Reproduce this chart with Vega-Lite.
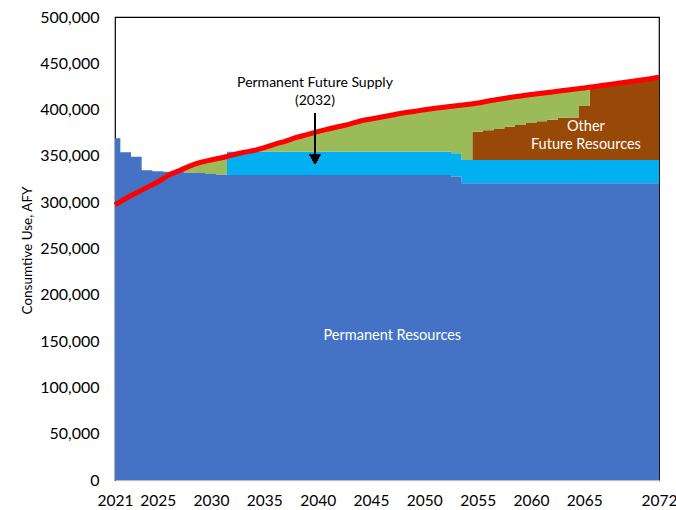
{
  "$schema": "https://vega.github.io/schema/vega-lite/v6.json",
  "width": 544,
  "height": 463,
  "autosize": {"type": "none"},
  "padding": {"left": 115, "top": 17, "right": 17, "bottom": 30},
  "config": {"view": {"stroke": "#000000", "strokeWidth": 1.2}, "font": "Lato"},
  "data": {"values": [
    {"year": 2021, "PR": 369000, "PFS": 0, "OFR": 0, "FN": 0, "demand": 297000},
    {"year": 2022, "PR": 354000, "PFS": 0, "OFR": 0, "FN": 0, "demand": 304000},
    {"year": 2023, "PR": 349000, "PFS": 0, "OFR": 0, "FN": 0, "demand": 310000},
    {"year": 2024, "PR": 334500, "PFS": 0, "OFR": 0, "FN": 0, "demand": 316000},
    {"year": 2025, "PR": 333500, "PFS": 0, "OFR": 0, "FN": 0, "demand": 321800},
    {"year": 2026, "PR": 333000, "PFS": 0, "OFR": 0, "FN": 0, "demand": 329000},
    {"year": 2027, "PR": 332500, "PFS": 0, "OFR": 0, "FN": 1500, "demand": 334000},
    {"year": 2028, "PR": 332000, "PFS": 0, "OFR": 0, "FN": 7000, "demand": 339000},
    {"year": 2029, "PR": 331500, "PFS": 0, "OFR": 0, "FN": 11500, "demand": 343000},
    {"year": 2030, "PR": 330500, "PFS": 0, "OFR": 0, "FN": 15100, "demand": 345600},
    {"year": 2031, "PR": 330000, "PFS": 0, "OFR": 0, "FN": 18000, "demand": 348000},
    {"year": 2032, "PR": 329500, "PFS": 25000, "OFR": 0, "FN": 0, "demand": 351000},
    {"year": 2033, "PR": 329500, "PFS": 25000, "OFR": 0, "FN": 0, "demand": 353700},
    {"year": 2034, "PR": 329500, "PFS": 25000, "OFR": 0, "FN": 1300, "demand": 355800},
    {"year": 2035, "PR": 329500, "PFS": 25000, "OFR": 0, "FN": 4500, "demand": 359000},
    {"year": 2036, "PR": 329500, "PFS": 25000, "OFR": 0, "FN": 8300, "demand": 362800},
    {"year": 2037, "PR": 329500, "PFS": 25000, "OFR": 0, "FN": 11500, "demand": 366000},
    {"year": 2038, "PR": 329500, "PFS": 25000, "OFR": 0, "FN": 15400, "demand": 369900},
    {"year": 2039, "PR": 329500, "PFS": 25000, "OFR": 0, "FN": 18500, "demand": 373000},
    {"year": 2040, "PR": 329500, "PFS": 25000, "OFR": 0, "FN": 21800, "demand": 376300},
    {"year": 2041, "PR": 329500, "PFS": 25000, "OFR": 0, "FN": 24500, "demand": 379000},
    {"year": 2042, "PR": 329500, "PFS": 25000, "OFR": 0, "FN": 27200, "demand": 381700},
    {"year": 2043, "PR": 329500, "PFS": 25000, "OFR": 0, "FN": 29900, "demand": 384400},
    {"year": 2044, "PR": 329500, "PFS": 25000, "OFR": 0, "FN": 33200, "demand": 387700},
    {"year": 2045, "PR": 329500, "PFS": 25000, "OFR": 0, "FN": 35400, "demand": 389900},
    {"year": 2046, "PR": 329500, "PFS": 25000, "OFR": 0, "FN": 37500, "demand": 392000},
    {"year": 2047, "PR": 329500, "PFS": 25000, "OFR": 0, "FN": 39700, "demand": 394200},
    {"year": 2048, "PR": 329500, "PFS": 25000, "OFR": 0, "FN": 41900, "demand": 396400},
    {"year": 2049, "PR": 329500, "PFS": 25000, "OFR": 0, "FN": 43500, "demand": 398000},
    {"year": 2050, "PR": 329500, "PFS": 25000, "OFR": 0, "FN": 45300, "demand": 399800},
    {"year": 2051, "PR": 329500, "PFS": 25000, "OFR": 0, "FN": 46900, "demand": 401400},
    {"year": 2052, "PR": 329500, "PFS": 25000, "OFR": 0, "FN": 48300, "demand": 402800},
    {"year": 2053, "PR": 327800, "PFS": 25000, "OFR": 0, "FN": 51400, "demand": 404200},
    {"year": 2054, "PR": 320500, "PFS": 25000, "OFR": 0, "FN": 60000, "demand": 405500},
    {"year": 2055, "PR": 320500, "PFS": 25000, "OFR": 30600, "FN": 31000, "demand": 407100},
    {"year": 2056, "PR": 320500, "PFS": 25000, "OFR": 32100, "FN": 31700, "demand": 409300},
    {"year": 2057, "PR": 320500, "PFS": 25000, "OFR": 34100, "FN": 31500, "demand": 411100},
    {"year": 2058, "PR": 320500, "PFS": 25000, "OFR": 36000, "FN": 31500, "demand": 413000},
    {"year": 2059, "PR": 320500, "PFS": 25000, "OFR": 37900, "FN": 31300, "demand": 414700},
    {"year": 2060, "PR": 320500, "PFS": 25000, "OFR": 40000, "FN": 30800, "demand": 416300},
    {"year": 2061, "PR": 320500, "PFS": 25000, "OFR": 41800, "FN": 30300, "demand": 417600},
    {"year": 2062, "PR": 320500, "PFS": 25000, "OFR": 43600, "FN": 29900, "demand": 419000},
    {"year": 2063, "PR": 320500, "PFS": 25000, "OFR": 45600, "FN": 29500, "demand": 420600},
    {"year": 2064, "PR": 320500, "PFS": 25000, "OFR": 46000, "FN": 30500, "demand": 422000},
    {"year": 2065, "PR": 320500, "PFS": 25000, "OFR": 58400, "FN": 19400, "demand": 423300},
    {"year": 2066, "PR": 320500, "PFS": 25000, "OFR": 79500, "FN": 0, "demand": 425000},
    {"year": 2067, "PR": 320500, "PFS": 25000, "OFR": 81100, "FN": 0, "demand": 426600},
    {"year": 2068, "PR": 320500, "PFS": 25000, "OFR": 82700, "FN": 0, "demand": 428200},
    {"year": 2069, "PR": 320500, "PFS": 25000, "OFR": 84300, "FN": 0, "demand": 429800},
    {"year": 2070, "PR": 320500, "PFS": 25000, "OFR": 85900, "FN": 0, "demand": 431400},
    {"year": 2071, "PR": 320500, "PFS": 25000, "OFR": 87500, "FN": 0, "demand": 433000},
    {"year": 2072, "PR": 320500, "PFS": 25000, "OFR": 89400, "FN": 0, "demand": 434900}
  ]},
  "layer": [
    {
      "transform": [{"fold": ["PR", "PFS", "OFR", "FN"], "as": ["source", "value"]}],
      "mark": {"type": "area", "interpolate": "step"},
      "encoding": {
        "x": {
          "field": "year", "type": "quantitative",
          "scale": {"domain": [2021, 2072], "nice": false, "zero": false},
          "axis": {
            "values": [2021, 2025, 2030, 2035, 2040, 2045, 2050, 2055, 2060, 2065, 2072],
            "format": "d", "grid": false, "ticks": false,
            "domainColor": "#BFBFBF", "domainWidth": 1.5,
            "labelFontSize": 15.5, "labelColor": "#000000", "labelPadding": 13,
            "labelOverlap": false, "labelFlush": false, "title": null
          }
        },
        "y": {
          "field": "value", "type": "quantitative", "stack": "zero",
          "scale": {"domain": [0, 500000], "nice": false},
          "axis": {
            "values": [0, 50000, 100000, 150000, 200000, 250000, 300000, 350000, 400000, 450000, 500000],
            "format": ",d", "grid": false, "ticks": false, "domain": false,
            "labelFontSize": 16, "labelColor": "#000000", "labelPadding": 16,
            "title": "Consumtive Use, AFY", "titleFontSize": 13.5, "titleFontWeight": "normal",
            "titleColor": "#000000", "titleX": -88, "titleY": 233, "titleAngle": -90,
            "titleBaseline": "middle", "titleAlign": "center"
          }
        },
        "color": {
          "field": "source", "type": "nominal",
          "sort": ["PR", "PFS", "OFR", "FN"],
          "scale": {"domain": ["PR", "PFS", "OFR", "FN"], "range": ["#4472C4", "#00B0F0", "#984807", "#9BBB59"]},
          "legend": null
        }
      }
    },
    {
      "mark": {"type": "line", "interpolate": "monotone", "color": "#FF0000", "strokeWidth": 5},
      "encoding": {
        "x": {"field": "year", "type": "quantitative"},
        "y": {"field": "demand", "type": "quantitative"}
      }
    },
    {
      "data": {"values": [{"note": "Permanent Future Supply"}]},
      "mark": {"type": "text", "fontSize": 14, "color": "#000000"},
      "encoding": {"text": {"field": "note"}, "x": {"datum": 2039.75, "type": "quantitative"}, "y": {"datum": 428700, "type": "quantitative"}}
    },
    {
      "data": {"values": [{"note": "(2032)"}]},
      "mark": {"type": "text", "fontSize": 14, "color": "#000000"},
      "encoding": {"text": {"field": "note"}, "x": {"datum": 2039.75, "type": "quantitative"}, "y": {"datum": 409300, "type": "quantitative"}}
    },
    {
      "mark": {"type": "rule", "color": "#000000", "strokeWidth": 2},
      "encoding": {"x": {"datum": 2039.75, "type": "quantitative"}, "y": {"datum": 396300, "type": "quantitative"}, "y2": {"datum": 352000}}
    },
    {
      "mark": {"type": "point", "shape": "triangle-down", "filled": true, "color": "#000000", "size": 130, "opacity": 1},
      "encoding": {"x": {"datum": 2039.75, "type": "quantitative"}, "y": {"datum": 346700, "type": "quantitative"}}
    },
    {
      "data": {"values": [{"note": "Permanent Resources"}]},
      "mark": {"type": "text", "fontSize": 14.5, "color": "#FFFFFF"},
      "encoding": {"text": {"field": "note"}, "x": {"datum": 2047, "type": "quantitative"}, "y": {"datum": 155500, "type": "quantitative"}}
    },
    {
      "data": {"values": [{"note": "Other"}]},
      "mark": {"type": "text", "fontSize": 14.5, "color": "#FFFFFF"},
      "encoding": {"text": {"field": "note"}, "x": {"datum": 2065.15, "type": "quantitative"}, "y": {"datum": 381500, "type": "quantitative"}}
    },
    {
      "data": {"values": [{"note": "Future Resources"}]},
      "mark": {"type": "text", "fontSize": 14.5, "color": "#FFFFFF"},
      "encoding": {"text": {"field": "note"}, "x": {"datum": 2065.15, "type": "quantitative"}, "y": {"datum": 361800, "type": "quantitative"}}
    }
  ]
}
